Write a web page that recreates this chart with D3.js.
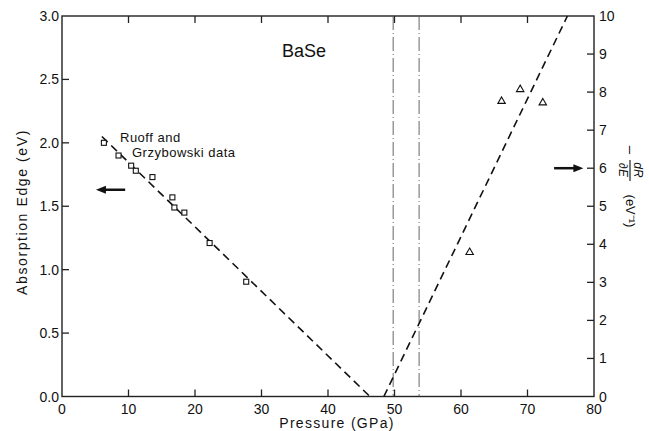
<!DOCTYPE html>
<html lang="en">
<head>
<meta charset="utf-8">
<title>BaSe - absorption edge</title>
<script src="https://cdnjs.cloudflare.com/ajax/libs/d3/7.8.5/d3.min.js"></script>
<style>
  body { margin:0; background:#fff; }
  text { font-family:'Liberation Sans', Arial, sans-serif; fill:#111; }
</style>
</head>
<body>
<div id="chart"></div>
<script>
// data
var pressureTicks = [0,10,20,30,40,50,60,70,80];
var edgeTicks = [0,0.5,1.0,1.5,2.0,2.5,3.0];
var drdeTicks = [0,1,2,3,4,5,6,7,8,9,10];

// Ruoff and Grzybowski absorption edge data (GPa, eV)
var squareP = [6.3,8.5,10.4,11.1,13.6,16.6,16.9,18.4,22.2,27.7];
var squareE = [2.00,1.90,1.82,1.78,1.73,1.57,1.49,1.45,1.21,0.905];

// -dR/dE data (GPa, eV^-1)
var triP = [61.3,66.1,68.9,72.3];
var triR = [3.79,7.76,8.07,7.72];

// fitted dashed lines
var edgeFitP = [6.0,46.3];
var edgeFitE = [2.05,0];
var drdeFitP = [48.4,76.0];
var drdeFitR = [0,10];

// dash-dot vertical markers (GPa)
var markerP = [49.8,53.7];

var width = 649, height = 431;
var svg = d3.select("#chart").append("svg")
    .attr("width", width)
    .attr("height", height);

var x = d3.scaleLinear().domain([0,80]).range([62,594]);
var yL = d3.scaleLinear().domain([0,3]).range([396.5,16]);
var yR = d3.scaleLinear().domain([0,10]).range([396.5,16]);

// frame
svg.append("rect")
    .attr("x", x(0)).attr("y", yL(3))
    .attr("width", x(80)-x(0)).attr("height", yL(0)-yL(3))
    .attr("fill","none").attr("stroke","#222").attr("stroke-width",1.4);

// ticks (all pointing inward)
var tk = 7;
svg.selectAll(".bt").data(pressureTicks.slice(1,-1)).enter().append("line")
    .attr("x1", d => x(d)).attr("x2", d => x(d))
    .attr("y1", yL(0)).attr("y2", yL(0)-tk)
    .attr("stroke","#222").attr("stroke-width",1.3);
svg.selectAll(".tt").data(pressureTicks.slice(1,-1)).enter().append("line")
    .attr("x1", d => x(d)).attr("x2", d => x(d))
    .attr("y1", yL(3)).attr("y2", yL(3)+tk)
    .attr("stroke","#222").attr("stroke-width",1.3);
svg.selectAll(".lt").data(edgeTicks.slice(1,-1)).enter().append("line")
    .attr("x1", x(0)).attr("x2", x(0)+tk)
    .attr("y1", d => yL(d)).attr("y2", d => yL(d))
    .attr("stroke","#222").attr("stroke-width",1.3);
svg.selectAll(".rt").data(drdeTicks.slice(1,-1)).enter().append("line")
    .attr("x1", x(80)).attr("x2", x(80)-tk)
    .attr("y1", d => yR(d)).attr("y2", d => yR(d))
    .attr("stroke","#222").attr("stroke-width",1.3);

// tick labels
svg.selectAll(".bl").data(pressureTicks).enter().append("text")
    .attr("x", d => x(d)).attr("y", yL(0)+17)
    .attr("text-anchor","middle").attr("font-size",14)
    .text(d => d);
svg.selectAll(".ll").data(edgeTicks).enter().append("text")
    .attr("x", x(0)-3).attr("y", d => yL(d)+5)
    .attr("text-anchor","end").attr("font-size",14)
    .text(d => d.toFixed(1));
svg.selectAll(".rl").data(drdeTicks).enter().append("text")
    .attr("x", x(80)+5).attr("y", d => yR(d)+5)
    .attr("text-anchor","start").attr("font-size",14)
    .text(d => d);

// axis titles
svg.append("text")
    .attr("x", 337).attr("y", 428)
    .attr("text-anchor","middle").attr("font-size",14).attr("letter-spacing",1.3)
    .text("Pressure  (GPa)");
svg.append("text")
    .attr("transform","translate(27,212) rotate(-90)")
    .attr("text-anchor","middle").attr("font-size",14).attr("letter-spacing",1.6)
    .text("Absorption  Edge  (eV)");

// right title: -dR/dE (eV^-1), reading downward
var rt = svg.append("g").attr("transform","translate(631,150) rotate(90)");
rt.append("text").attr("x",0).attr("y",5).attr("text-anchor","middle")
    .attr("font-size",15).text("\u2013");
rt.append("text").attr("x",20).attr("y",-3).attr("text-anchor","middle")
    .attr("font-size",12).attr("font-style","italic").text("dR");
rt.append("line").attr("x1",10).attr("x2",31).attr("y1",1).attr("y2",1)
    .attr("stroke","#222").attr("stroke-width",1.2);
rt.append("text").attr("x",20).attr("y",12).attr("text-anchor","middle")
    .attr("font-size",12).attr("font-style","italic").text("\u2202E");
rt.append("text").attr("x",61).attr("y",5).attr("text-anchor","middle")
    .attr("font-size",13).text("(eV\u207B\u00B9)");

// dash-dot markers
svg.selectAll(".mk").data(markerP).enter().append("line")
    .attr("x1", d => x(d)).attr("x2", d => x(d))
    .attr("y1", yL(3)).attr("y2", yL(0))
    .attr("stroke","#555").attr("stroke-width",0.9)
    .attr("stroke-dasharray","14,3,1,3");

// fitted dashed lines
var lineL = d3.line().x(d => x(d[0])).y(d => yL(d[1]));
var lineR = d3.line().x(d => x(d[0])).y(d => yR(d[1]));
svg.append("path")
    .attr("d", lineL(d3.zip(edgeFitP, edgeFitE)))
    .attr("fill","none").attr("stroke","#111").attr("stroke-width",1.6)
    .attr("stroke-dasharray","8,5");
svg.append("path")
    .attr("d", lineR(d3.zip(drdeFitP, drdeFitR)))
    .attr("fill","none").attr("stroke","#111").attr("stroke-width",1.6)
    .attr("stroke-dasharray","8,5");

// squares
svg.selectAll(".sq").data(d3.zip(squareP, squareE)).enter().append("rect")
    .attr("x", d => x(d[0])-2.5).attr("y", d => yL(d[1])-2.5)
    .attr("width",5).attr("height",5)
    .attr("fill","#fff").attr("stroke","#111").attr("stroke-width",1.1);

// triangles
var tri = d3.symbol().type(d3.symbolTriangle).size(24);
svg.selectAll(".tr").data(d3.zip(triP, triR)).enter().append("path")
    .attr("d", tri)
    .attr("transform", d => "translate(" + x(d[0]) + "," + yR(d[1]) + ")")
    .attr("fill","#fff").attr("stroke","#111").attr("stroke-width",1.1);

// arrows
function arrow(x1, y1, x2, y2) {
    var dir = x2 > x1 ? 1 : -1;
    svg.append("line").attr("x1",x1).attr("x2",x2-dir*6).attr("y1",y1).attr("y2",y2)
        .attr("stroke","#111").attr("stroke-width",2.5);
    svg.append("path")
        .attr("d","M"+x2+","+y2+"L"+(x2-dir*10)+","+(y2-4)+"L"+(x2-dir*10)+","+(y2+4)+"Z")
        .attr("fill","#111");
}
arrow(x(9.5), yL(1.63), x(5.1), yL(1.63));
arrow(x(74.0), yR(6), x(78.4), yR(6));

// annotations
svg.append("text").attr("x",282).attr("y",57).attr("font-size",18)
    .text("BaSe");
svg.append("text").attr("x",120).attr("y",142).attr("font-size",13)
    .attr("letter-spacing",0.5).text("Ruoff and");
svg.append("text").attr("x",132).attr("y",157).attr("font-size",13)
    .attr("letter-spacing",0.5).text("Grzybowski data");
</script>
</body>
</html>
